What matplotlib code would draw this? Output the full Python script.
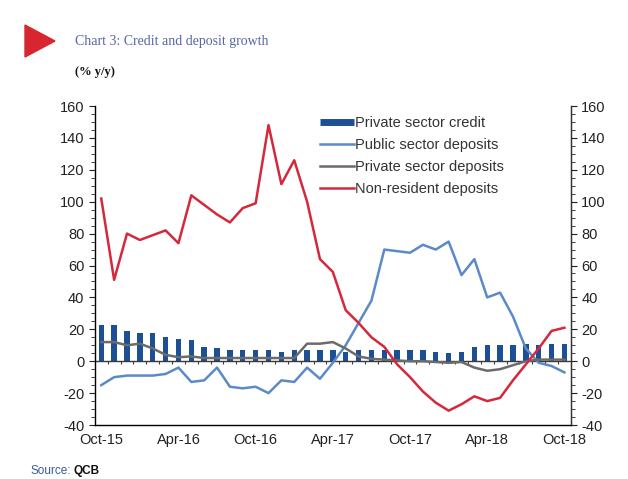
import matplotlib.pyplot as plt
import numpy as np
import pandas as pd
from matplotlib.patches import Polygon
from matplotlib.lines import Line2D
from matplotlib.ticker import MultipleLocator

plt.rcParams['font.family'] = ['Liberation Sans', 'DejaVu Sans']
plt.rcParams['axes.unicode_minus'] = False

# Meses (Oct-15 a Oct-18)
months = list(pd.date_range('2015-10-01', periods=37, freq='MS').strftime('%b-%y'))

# Dados (% y/y)
private_credit = [23, 23, 19, 18, 18, 15, 14, 13, 9, 8, 7, 7, 7, 7, 6, 7, 7, 7, 7, 6,
                  7, 7, 7, 7, 7, 7, 6, 5, 6, 9, 10, 10, 10, 11, 10, 11, 11]
public_deposits = [-15, -10, -9, -9, -9, -8, -4, -13, -12, -4, -16, -17, -16, -20, -12, -13, -4, -11, -1, 10,
                   24, 38, 70, 69, 68, 73, 70, 75, 54, 64, 40, 43, 28, 8, -1, -3, -7]
private_deposits = [12, 12, 10, 11, 8, 4, 2.5, 3, 2, 2, 2, 2, 2, 2, 2, 2, 11, 11, 12, 8,
                    3, 1.5, 1, 0.5, 0, 0, -0.5, -1, -0.5, -4, -6, -5, -2.5, 0, 1, 1, 1]
nonres_deposits = [102, 51, 80, 76, 79, 82, 74, 104, 98, 92, 87, 96, 99, 148, 111, 126, 100, 64, 56, 32,
                   24, 15, 9, -2, -10, -19, -26, -31, -27, -22, -25, -23, -12, -2, 8, 19, 21]

x = np.arange(len(months))

fig = plt.figure(figsize=(6.28, 4.79), dpi=100)
fig.patch.set_facecolor('white')
ax = fig.add_axes([0.151, 0.1127, 0.758, 0.666])

bar_color = '#1C4F94'
ax.bar(x, private_credit, width=0.42, color=bar_color, zorder=2)
l1, = ax.plot(x, public_deposits, color='#5B8AC8', lw=1.8, zorder=3)
l2, = ax.plot(x, private_deposits, color='#6B6B6B', lw=1.8, zorder=3)
l3, = ax.plot(x, nonres_deposits, color='#D6283C', lw=1.8, zorder=4)

# eixo das categorias cruzando em zero
ax.axhline(0, color='#3A3A3A', lw=1.0, zorder=2.5)
ax.vlines(x[:-1] + 0.5, -1.8, 0, color='#3A3A3A', lw=0.8, zorder=2.5)

ax.set_xlim(-0.5, 36.5)
ax.set_ylim(-40, 160)
ax.yaxis.set_major_locator(MultipleLocator(20))
ax.yaxis.set_minor_locator(MultipleLocator(5))
ax.set_xticks(x[::6])
ax.set_xticklabels(months[::6])
ax.tick_params(axis='x', length=0, labelsize=10.5, pad=6, colors='#222222')
ax.tick_params(axis='y', which='major', direction='out', length=4, labelsize=10.5, colors='#222222')
ax.tick_params(axis='y', which='minor', direction='out', length=3, color='#222222')

ax.spines['top'].set_visible(False)
for s in ['left', 'right', 'bottom']:
    ax.spines[s].set_color('#333333')
    ax.spines[s].set_linewidth(1.0)

ax2 = ax.twinx()
ax2.set_ylim(-40, 160)
ax2.yaxis.set_major_locator(MultipleLocator(20))
ax2.yaxis.set_minor_locator(MultipleLocator(5))
ax2.tick_params(axis='y', which='major', direction='out', length=4, labelsize=10.5, colors='#222222')
ax2.tick_params(axis='y', which='minor', direction='out', length=3, color='#222222')
ax2.spines['top'].set_visible(False)
ax2.spines['right'].set_color('#333333')

# legenda: barra primeiro, como no original
bar_handle = Line2D([], [], color=bar_color, lw=5, solid_capstyle='butt')
leg = ax.legend([bar_handle, l1, l2, l3],
                ['Private sector credit', 'Public sector deposits',
                 'Private sector deposits', 'Non-resident deposits'],
                loc='upper left', bbox_to_anchor=(0.51, 0.757), bbox_transform=fig.transFigure,
                frameon=False, fontsize=10.5, handlelength=2.3, handletextpad=0.1,
                labelspacing=0.55, borderpad=0, borderaxespad=0)
for t in leg.get_texts():
    t.set_color('#333333')

# Título e marcações
tri = Polygon([[25 / 628, 1 - 25 / 479], [25 / 628, 1 - 57 / 479], [55 / 628, 1 - 41 / 479]],
              closed=True, transform=fig.transFigure, color='#D7262F')
fig.patches.append(tri)
fig.text(75 / 628, 1 - 42 / 479, 'Chart 3: Credit and deposit growth', family='Liberation Serif',
         fontsize=10, color='#5765A0', va='center', ha='left')
fig.text(75 / 628, 1 - 72 / 479, '(% y/y)', family='Liberation Serif', fontweight='bold',
         fontsize=9, color='#111111', va='center', ha='left')
fig.text(30 / 628, 1 - 471 / 479, 'Source:', fontsize=8.5, color='#3A5A9A', va='center', ha='left')
fig.text(73 / 628, 1 - 471 / 479, 'QCB', fontsize=8.5, fontweight='bold', color='#111111',
         va='center', ha='left')

plt.savefig('out.png', dpi=100, facecolor='white')
